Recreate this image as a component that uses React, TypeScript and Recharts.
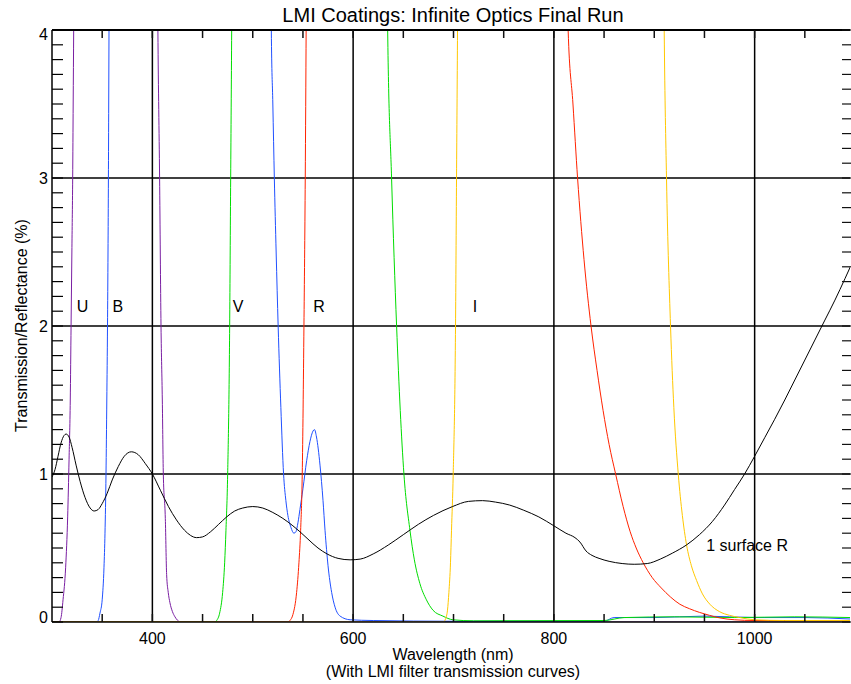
import React from 'react';
import { LineChart, Line, XAxis, YAxis, CartesianGrid, ReferenceDot } from 'recharts';

const TITLE = 'LMI Coatings: Infinite Optics Final Run';
const X_LABEL = 'Wavelength (nm)';
const X_SUBLABEL = '(With LMI filter transmission curves)';
const Y_LABEL = 'Transmission/Reflectance (%)';

const X_DOMAIN: [number, number] = [300, 1095];
const Y_DOMAIN: [number, number] = [0, 4];
const X_TICKS = [350, 400, 450, 500, 550, 600, 650, 700, 750, 800, 850, 900, 950, 1000, 1050];
const X_LABELLED = [400, 600, 800, 1000];
const X_GRID = [400, 600, 800, 1000];
const Y_TICKS = Array.from({ length: 41 }, (_, i) => i / 10);
const Y_LABELLED = [0, 1, 2, 3, 4];
const Y_GRID = [1, 2, 3];

// 1 surface reflectance (black)
const SURFACE_R: [number, number][] = [
  [300, 0.98], [303, 1.03], [306, 1.12], [309, 1.21], [312, 1.26], [314, 1.27], [317, 1.25], [320, 1.18],
  [324, 1.06], [328, 0.95], [333, 0.84], [338, 0.77], [342, 0.75], [346, 0.76], [350, 0.8], [355, 0.87],
  [360, 0.96], [366, 1.05], [372, 1.12], [379, 1.15], [386, 1.13], [393, 1.07], [400, 1.0], [408, 0.89],
  [416, 0.78], [424, 0.69], [432, 0.62], [438, 0.585], [444, 0.57], [450, 0.575], [458, 0.61], [466, 0.66],
  [474, 0.71], [482, 0.75], [490, 0.77], [500, 0.78], [510, 0.77], [520, 0.74], [530, 0.7], [540, 0.65],
  [547, 0.61], [555, 0.56], [565, 0.5], [574, 0.46], [585, 0.43], [597, 0.42], [607, 0.425], [620, 0.46],
  [635, 0.52], [650, 0.59], [665, 0.66], [680, 0.72], [699, 0.78], [715, 0.815], [729, 0.82], [742, 0.81],
  [756, 0.79], [770, 0.755], [785, 0.71], [800, 0.65], [812, 0.6], [821, 0.57], [826, 0.54], [832, 0.48],
  [838, 0.45], [845, 0.43], [855, 0.41], [868, 0.395], [880, 0.39], [893, 0.395], [906, 0.425], [918, 0.465],
  [932, 0.52], [945, 0.59], [958, 0.68], [970, 0.79], [980, 0.895], [990, 1.0], [1000, 1.12], [1010, 1.245],
  [1020, 1.37], [1030, 1.5], [1040, 1.635], [1050, 1.77], [1060, 1.905], [1070, 2.04], [1080, 2.175],
  [1090, 2.32], [1096, 2.41],
];

const U_FILTER: [number, number][] = [
  [300, 0], [307, 0], [309, 0.03], [311, 0.15], [313.6, 0.37], [315.6, 0.71], [317, 1.1], [318.2, 1.5],
  [319, 2.0], [319.8, 2.5], [320.6, 3.0], [321.1, 3.5], [321.6, 4.0], [322.5, 5], [326, 10], [340, 40],
  [370, 60], [395, 30], [403, 7], [405.5, 4.0], [407.2, 3.0], [408.6, 2.0], [409.9, 1.5], [410.9, 1.0],
  [412.9, 0.7], [414.2, 0.32], [415.8, 0.2], [417.5, 0.13], [420, 0.07], [422.5, 0.035], [425, 0.012],
  [428, 0], [1096, 0],
];

const B_FILTER: [number, number][] = [
  [300, 0], [344, 0], [346, 0.01], [347.8, 0.06], [350, 0.15], [351.8, 0.37], [352.8, 0.6], [353.8, 1.0],
  [354.6, 1.5], [355.3, 2.0], [355.8, 2.5], [356.2, 3.0], [356.5, 3.5], [356.8, 4.0], [358, 6], [365, 15],
  [400, 60], [480, 70], [512, 10], [517.5, 5], [518.5, 4.0], [520, 3.5], [521.5, 3.0], [523.3, 2.5],
  [525.3, 2.0], [528, 1.45], [530.7, 1.0], [533, 0.82], [535, 0.72], [538, 0.64], [541, 0.6], [543, 0.61],
  [545, 0.67], [547, 0.76], [550, 0.9], [553.7, 1.09], [557, 1.22], [560, 1.29], [561.5, 1.3], [563.5, 1.25],
  [567, 1.06], [570, 0.82], [572, 0.62], [575, 0.38], [578.6, 0.2], [582, 0.1], [587, 0.04], [597, 0.015],
  [620, 0.01], [700, 0.005], [850, 0.005], [860, 0.03], [900, 0.03], [950, 0.04], [1000, 0.03], [1050, 0.03],
  [1096, 0.02],
];

const V_FILTER: [number, number][] = [
  [300, 0], [462, 0], [464, 0.01], [467, 0.06], [470, 0.2], [472, 0.4], [473.3, 0.62], [475, 1.0], [477, 2.0],
  [478, 3.0], [479, 4.0], [481, 7], [500, 50], [600, 70], [628, 10], [634.4, 4.0], [638.3, 3.0], [643.3, 2.0],
  [650.6, 1.0], [656.6, 0.62], [661, 0.42], [666.5, 0.26], [673, 0.15], [679.5, 0.08], [689.4, 0.04],
  [699.4, 0.015], [720, 0.008], [850, 0.01], [870, 0.03], [920, 0.035], [980, 0.03], [1040, 0.035], [1096, 0.03],
];

const R_FILTER: [number, number][] = [
  [300, 0], [535, 0], [537, 0.01], [540, 0.05], [543.7, 0.2], [546, 0.4], [547.7, 0.62], [549.3, 1.0],
  [551, 2.0], [552.3, 3.0], [553.2, 4.0], [555, 6], [570, 40], [700, 80], [800, 15], [814.2, 4.0], [819, 3.5],
  [823.6, 3.0], [830, 2.45], [837, 2.0], [843, 1.7], [849, 1.43], [855, 1.2], [861.5, 1.0], [869, 0.78],
  [876, 0.61], [882, 0.5], [889, 0.4], [898, 0.3], [907, 0.23], [916, 0.17], [925.5, 0.12], [935, 0.09],
  [945, 0.065], [955, 0.045], [965, 0.028], [980, 0.015], [1000, 0.01], [1096, 0.01],
];

const I_FILTER: [number, number][] = [
  [300, 0], [690, 0], [692, 0.02], [694, 0.08], [695.4, 0.2], [697, 0.4], [698, 0.62], [699.7, 1.0], [702, 2.0],
  [703, 3.0], [704, 4.0], [706, 7], [750, 80], [890, 60], [905, 10], [909.9, 4.0], [912.2, 3.0], [916.2, 2.0],
  [919.5, 1.45], [923.9, 1.0], [928, 0.72], [932.2, 0.52], [937, 0.38], [942.2, 0.28], [948, 0.19],
  [955.4, 0.12], [965, 0.07], [975, 0.045], [985, 0.03], [1000, 0.015], [1030, 0.01], [1096, 0.01],
];

const SERIES_NAMES = ['U', 'B', 'V', 'R', 'I', '1 surface R'];
const SERIES_COLORS = ['#7a1fa2', '#2050ff', '#00dd00', '#ff2200', '#ffc800', '#000000'];
const SERIES_POINTS = [U_FILTER, B_FILTER, V_FILTER, R_FILTER, I_FILTER, SURFACE_R];

const ANNOTATION_TEXT = ['U', 'B', 'V', 'R', 'I', '1 surface R'];
const ANNOTATION_X = [330.4, 365.6, 485.3, 566, 721.4, 992.5];
const ANNOTATION_Y = [2.13, 2.13, 2.13, 2.13, 2.13, 0.52];

const FONT = '"Liberation Sans", Arial, Helvetica, sans-serif';

// layout constants
const CHART_W = 851;
const CHART_H = 684;
const TOP_MARGIN = 29;
const TOP_AXIS_H = 1;
const BOTTOM_AXIS_H = 62;
const RIGHT_AXIS_W = 1;
const PLOT_TOP = TOP_MARGIN + TOP_AXIS_H;
const PLOT_BOTTOM = CHART_H - BOTTOM_AXIS_H;
const PLOT_RIGHT = CHART_W - RIGHT_AXIS_W;
const MINOR_TICK = 8;
const TICK_COLOR = '#111';

const YTick = (props: any) => {
  const { x, y, payload } = props;
  const v = Math.round(payload.value * 10) / 10;
  if (!Y_LABELLED.includes(v)) return <g />;
  const shift = v === 0 ? -5 : v === 4 ? 4 : 0;
  return (
    <text x={x} y={y + shift} dy="0.35em" textAnchor="end" fontSize={16} fill="#000" fontFamily={FONT}>
      {v}
    </text>
  );
};

const XTick = (props: any) => {
  const { x, payload } = props;
  const labelled = X_LABELLED.includes(payload.value);
  return (
    <g>
      <line x1={x} x2={x} y1={PLOT_BOTTOM} y2={PLOT_BOTTOM - MINOR_TICK} stroke={TICK_COLOR} strokeWidth={1.5} />
      {labelled && (
        <text x={x} y={PLOT_BOTTOM + 11} dy="0.71em" textAnchor="middle" fontSize={16} fill="#000" fontFamily={FONT}>
          {payload.value}
        </text>
      )}
    </g>
  );
};

const TopTick = (props: any) => {
  const { x } = props;
  return <line x1={x} x2={x} y1={PLOT_TOP} y2={PLOT_TOP + MINOR_TICK} stroke={TICK_COLOR} strokeWidth={1.5} />;
};

const RightTick = (props: any) => {
  const { y } = props;
  return <line x1={PLOT_RIGHT - MINOR_TICK} x2={PLOT_RIGHT + 1} y1={y} y2={y} stroke={TICK_COLOR} strokeWidth={1.2} />;
};

export default function App() {
  return (
    <div style={{ position: 'absolute', left: 0, top: 0, width: CHART_W, height: CHART_H, background: '#fff', fontFamily: FONT }}>
      <LineChart width={CHART_W} height={CHART_H} margin={{ top: TOP_MARGIN, right: 0, bottom: 0, left: 0 }}>
        <CartesianGrid
          xAxisId="b"
          yAxisId="l"
          horizontalValues={Y_GRID}
          verticalValues={X_GRID}
          stroke="#000"
          strokeWidth={1.5}
        />
        <XAxis
          xAxisId="b"
          dataKey="x"
          type="number"
          domain={X_DOMAIN}
          allowDataOverflow
          ticks={X_TICKS}
          tick={<XTick />}
          tickLine={false}
          axisLine={{ stroke: '#000', strokeWidth: 1.5 }}
          height={BOTTOM_AXIS_H}
          interval={0}
        />
        <XAxis
          xAxisId="t"
          orientation="top"
          dataKey="x"
          type="number"
          domain={X_DOMAIN}
          allowDataOverflow
          ticks={X_TICKS}
          tick={<TopTick />}
          tickLine={false}
          axisLine={{ stroke: '#000', strokeWidth: 2 }}
          height={TOP_AXIS_H}
          interval={0}
        />
        <YAxis
          yAxisId="l"
          type="number"
          domain={Y_DOMAIN}
          allowDataOverflow
          ticks={Y_TICKS}
          tick={<YTick />}
          tickSize={-11}
          tickMargin={15}
          tickLine={{ stroke: '#000', strokeWidth: 1.2 }}
          axisLine={{ stroke: '#000', strokeWidth: 1.5 }}
          width={52}
          interval={0}
        />
        <YAxis
          yAxisId="r"
          orientation="right"
          type="number"
          domain={Y_DOMAIN}
          allowDataOverflow
          ticks={Y_TICKS}
          tick={<RightTick />}
          tickLine={false}
          axisLine={false}
          width={RIGHT_AXIS_W}
          interval={0}
        />
        {SERIES_POINTS.map((pts, i) => (
          <Line
            key={SERIES_NAMES[i]}
            name={SERIES_NAMES[i]}
            xAxisId="b"
            yAxisId="l"
            data={pts.map(([x, y]) => ({ x, y }))}
            dataKey="y"
            type="monotone"
            stroke={SERIES_COLORS[i]}
            strokeWidth={1}
            dot={false}
            activeDot={false}
            isAnimationActive={false}
          />
        ))}
        {ANNOTATION_TEXT.map((t, i) => (
          <ReferenceDot
            key={t}
            xAxisId="b"
            yAxisId="l"
            x={ANNOTATION_X[i]}
            y={ANNOTATION_Y[i]}
            r={0}
            fill="none"
            stroke="none"
            label={{ value: t, position: 'center', fontSize: 16, fill: '#000', fontFamily: FONT }}
          />
        ))}
      </LineChart>
      <svg
        width={CHART_W}
        height={CHART_H}
        style={{ position: 'absolute', left: 0, top: 0, pointerEvents: 'none' }}
        fontFamily={FONT}
      >
        <text x={453} y={22} textAnchor="middle" fontSize={20} fill="#000">{TITLE}</text>
        <text x={453} y={660} textAnchor="middle" fontSize={16} fill="#000">{X_LABEL}</text>
        <text x={453} y={676.5} textAnchor="middle" fontSize={16} fill="#000">{X_SUBLABEL}</text>
        <text x={27} y={325.5} textAnchor="middle" fontSize={16} fill="#000" transform="rotate(-90, 27, 325.5)">
          {Y_LABEL}
        </text>
      </svg>
    </div>
  );
}
